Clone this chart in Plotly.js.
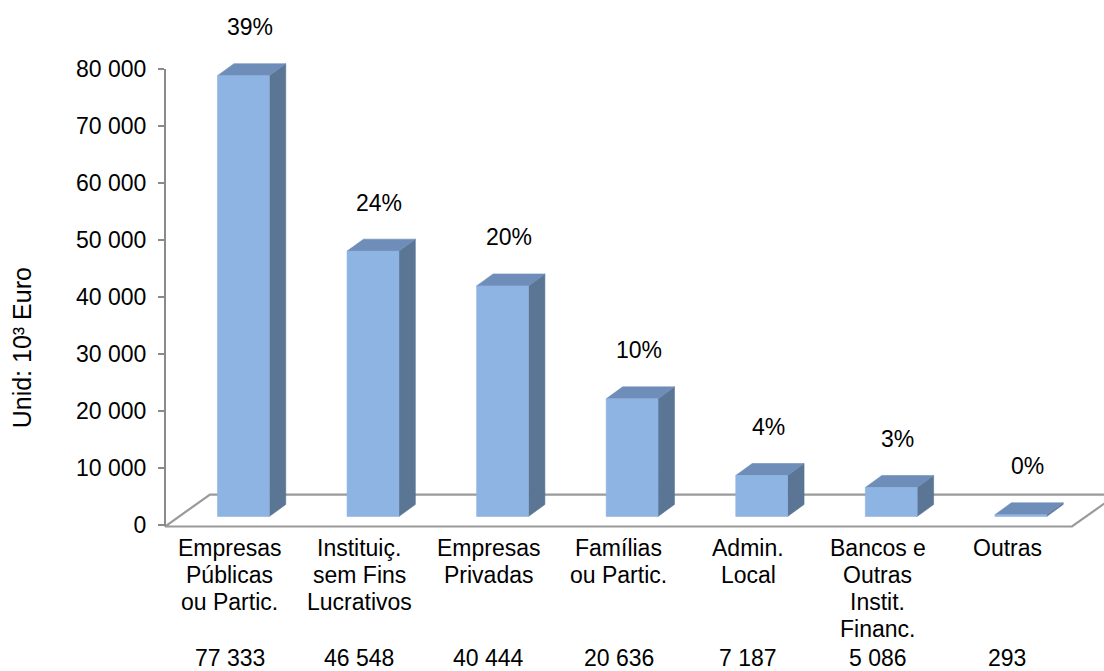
<!DOCTYPE html>
<html>
<head>
<meta charset="utf-8">
<script src="https://cdn.plot.ly/plotly-3.0.1.min.js"></script>
<style>
  html, body { margin: 0; padding: 0; background: #ffffff; }
  #chart { width: 1104px; height: 671px; }
</style>
</head>
<body>
<div id="chart"></div>
<script>
// Funding by source (thousand euro)
const categories = [
  "Empresas<br>Públicas<br>ou Partic.",
  "Instituiç.<br>sem Fins<br>Lucrativos",
  "Empresas<br>Privadas",
  "Famílias<br>ou Partic.",
  "Admin.<br>Local",
  "Bancos e<br>Outras<br>Instit.<br>Financ.",
  "Outras"
];
const values = [77333, 46548, 40444, 20636, 7187, 5086, 293];
const yTicks = [0, 10000, 20000, 30000, 40000, 50000, 60000, 70000, 80000];
const yTitle = "Unid: 10³ Euro";

// ---- styling / pseudo-3D geometry (data units) ----
const FONT = "Liberation Sans, Arial, Helvetica, sans-serif";
const FS = 23;
const COL_FRONT = "#8EB4E3";
const COL_TOP = "#6E8DB8";
const COL_SIDE = "#5B7595";
const FLOOR_COL = "#9a9a9a";

const barX0 = -0.095, barX1 = 0.305;   // front face extent around category
const barBase = 1500;                   // bars stand a little behind the front edge
const depthX = 0.127, depthY = 2100;    // depth offset of the bar boxes
const floorFront = -260, floorDX = 0.347, floorDY = 5600;
const xMin = -0.5, xMax = 6.747;
const yMin = -1053, yMax = 92105;

function fmt(n) {
  return String(n).replace(/\B(?=(\d{3})+(?!\d))/g, " ");
}

const total = values.reduce((a, b) => a + b, 0);
const pctLabels = values.map(v => Math.round(v / total * 100) + "%");

// polygons for the three visible faces of each bar
const frontFace = {x: [], y: []}, sideFace = {x: [], y: []}, topFace = {x: [], y: []};
values.forEach((v, i) => {
  const x0 = i + barX0, x1 = i + barX1;
  const yb = barBase, yt = barBase + v;
  frontFace.x.push(x0, x1, x1, x0, x0, null);
  frontFace.y.push(yb, yb, yt, yt, yb, null);
  sideFace.x.push(x1, x1 + depthX, x1 + depthX, x1, x1, null);
  sideFace.y.push(yb, yb + depthY, yt + depthY, yt, yb, null);
  topFace.x.push(x0, x1, x1 + depthX, x0 + depthX, x0, null);
  topFace.y.push(yt, yt, yt + depthY, yt + depthY, yt, null);
});

function face(poly, color) {
  return {
    type: "scatter", mode: "lines", x: poly.x, y: poly.y,
    fill: "toself", fillcolor: color,
    line: {color: color, width: 0.6},
    hoverinfo: "skip", showlegend: false
  };
}

// floor of the chart (parallelogram outline)
const nCat = categories.length;
const floor = {
  type: "scatter", mode: "lines",
  x: [xMin, xMin + floorDX, nCat - 0.5 + floorDX, nCat - 0.5, xMin],
  y: [floorFront, floorFront + floorDY, floorFront + floorDY, floorFront, floorFront],
  line: {color: FLOOR_COL, width: 2.2},
  hoverinfo: "skip", showlegend: false
};

const traces = [floor, face(sideFace, COL_SIDE), face(topFace, COL_TOP), face(frontFace, COL_FRONT)];

const annotations = [];
// category labels, one line at a time, and value row beneath
categories.forEach((c, i) => {
  c.split("<br>").forEach((line, k) => {
    annotations.push({
      xref: "x", yref: "paper", x: i, y: 0, yanchor: "middle", xanchor: "center",
      yshift: -17 - 27 * k, text: line, showarrow: false,
      font: {family: FONT, size: FS, color: "#000"}
    });
  });
  annotations.push({
    xref: "x", yref: "paper", x: i, y: 0, yanchor: "middle", xanchor: "center",
    yshift: -127, text: fmt(values[i]), showarrow: false,
    font: {family: FONT, size: FS, color: "#000"}
  });
  // share of total above each bar
  annotations.push({
    xref: "x", yref: "y", x: i + 0.155, y: values[i] + 10000,
    xanchor: "center", yanchor: "middle", text: pctLabels[i], showarrow: false,
    font: {family: FONT, size: FS, color: "#000"}
  });
});
// vertical axis title
annotations.push({
  xref: "paper", yref: "y", x: 0, y: 31000, xshift: -143,
  xanchor: "center", yanchor: "middle", textangle: -90,
  text: yTitle, showarrow: false,
  font: {family: FONT, size: 25, color: "#000"}
});

const layout = {
  width: 1104, height: 671,
  margin: {l: 165, r: 0, t: 0, b: 140, pad: 0},
  paper_bgcolor: "#ffffff", plot_bgcolor: "rgba(0,0,0,0)",
  font: {family: FONT, size: FS, color: "#000"},
  showlegend: false,
  xaxis: {
    range: [xMin, xMax], showgrid: false, zeroline: false, showline: false,
    showticklabels: false, ticks: "", fixedrange: true
  },
  yaxis: {
    range: [yMin, yMax], showgrid: false, zeroline: false, showline: false,
    tickvals: yTicks, ticktext: yTicks.map(fmt),
    ticks: "outside", ticklen: 6, tickwidth: 1.5, tickcolor: "#8a8a8a",
    ticklabelstandoff: 7,
    tickfont: {family: FONT, size: FS, color: "#000"}, fixedrange: true
  },
  shapes: [{
    type: "line", xref: "paper", yref: "y", x0: 0, x1: 0,
    y0: floorFront, y1: yTicks[yTicks.length - 1],
    line: {color: "#8a8a8a", width: 2}
  }],
  annotations: annotations
};

Plotly.newPlot("chart", traces, layout, {displayModeBar: false, staticPlot: true});
</script>
</body>
</html>
